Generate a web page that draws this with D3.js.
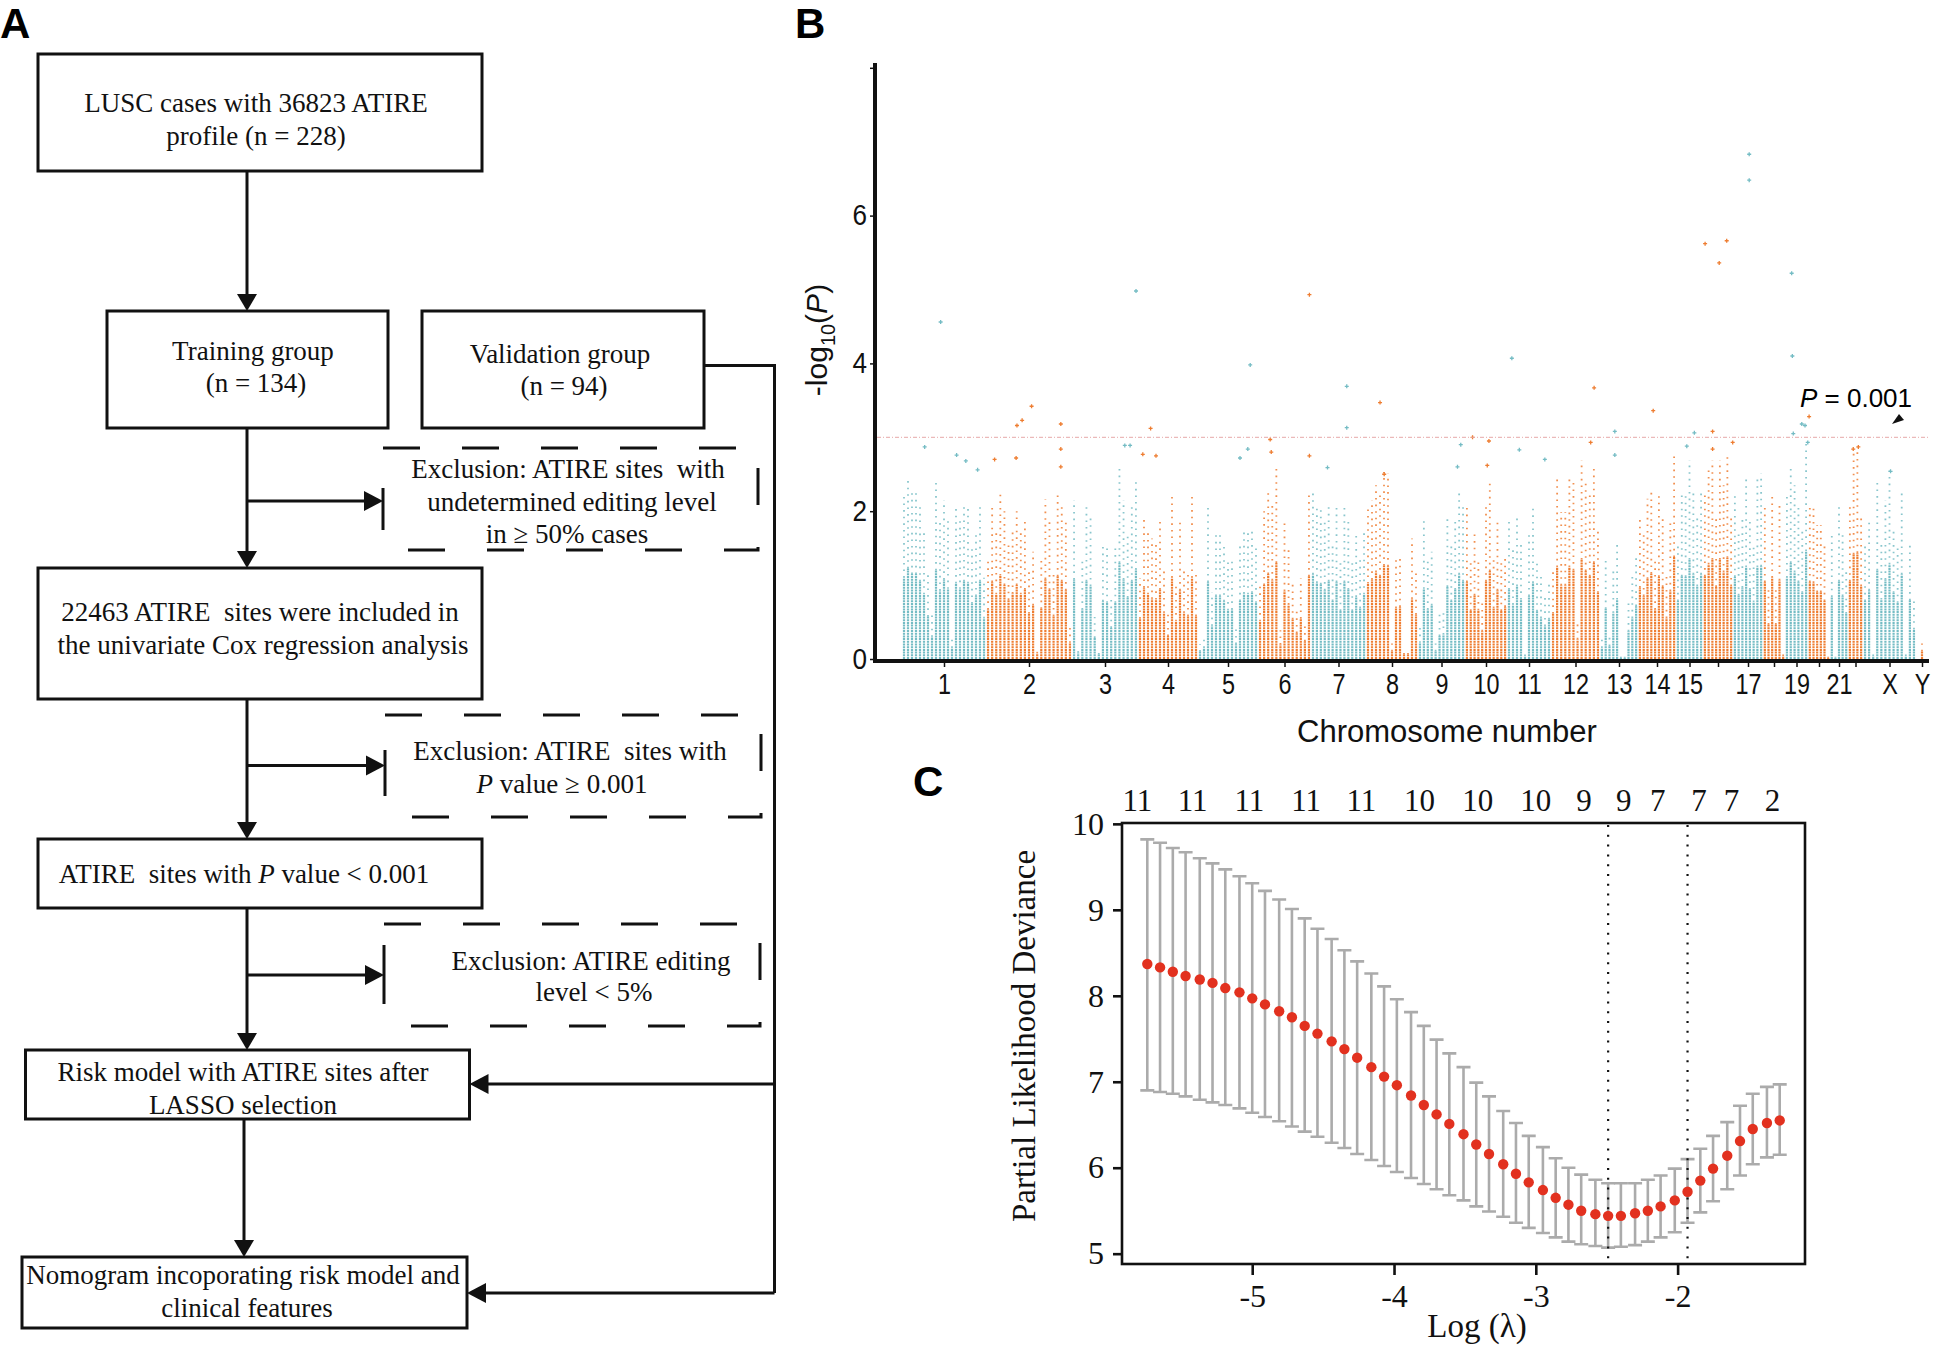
<!DOCTYPE html>
<html lang="en">
<head>
<meta charset="utf-8">
<title>ATIRE flowchart, Manhattan plot and LASSO cross-validation</title>
<script src="https://cdn.jsdelivr.net/npm/d3@7"></script>
<style>
  body { margin: 0; background: #fff; }
  svg text { white-space: pre; }
</style>
</head>
<body>
<div id="fig"></div>
<script>
// ---------- panel B : Manhattan plot ----------
var chrNames = ["1","2","3","4","5","6","7","8","9","10","11","12","13","14","15","16","17","18","19","20","21","22","X","Y"];
var chrShown = ["1","2","3","4","5","6","7","8","9","10","11","12","13","14","15","17","19","21","X","Y"];
// relative chromosome widths as they appear on the axis
var chrLengths = [84,86,66,60,60,53,55,52,47,42,44,49,38,38,27,30,30,22,23,22,18,15,53,12];

// top of each stripe of points (-log10 P), left to right inside each chromosome
var chr1 = [2.2,2.45,2.3,2.3,2.1,1.75,1.15,0.6,2.4,1.85,2.15,1.9,0.3,2.05,1.9,2.1,2.05,1.5,1.7,2.1,1.1];
var chr2 = [1.34,2.08,1.75,2.26,2.0,1.6,1.77,2.0,1.75,1.88,1.23,1.45,0.15,1.36,2.16,1.87,1.16,2.24,2.1,1.86,0.44];
var chr3 = [2.15,0.17,1.34,2.1,1.97,0.57,0.12,1.56,1.52,0.84,1.52,2.6,2.15,1.66,2.1,2.42];
var chr4 = [1.09,1.93,1.75,1.63,1.61,1.88,1.25,0.62,2.2,1.02,1.86,1.25,1.16,2.2,1.16];
var chr5 = [0.2,0.3,2.08,0.9,1.7,1.7,1.56,1.32,1.34,0.4,1.57,1.77,1.75,1.79,1.52];
var chr6 = [1.02,2.0,2.3,2.13,2.6,0.39,1.84,1.47,1.07,0.7,1.09,0.48,2.24];
var chr7 = [2.29,2.06,2.02,1.86,2.1,1.57,2.08,1.3,2.08,1.88,1.3,1.68,1.38,1.75];
var chr8 = [2.04,2.15,2.35,2.24,2.53,2.51,0.21,1.38,1.41,0.12,0.12,1.63,1.2];
var chr9 = [0.44,1.9,1.34,1.45,0.21,0.62,0.66,1.95,1.57,1.88,2.29,2.1];
var chr10 = [2.08,1.3,1.72,1.32,0.75,2.1,2.38,1.38,1.86,1.3,1.41];
var chr11 = [1.88,1.47,1.97,1.61,0.08,1.7,2.06,1.29,1.11,0.89,1.07];
var chr12 = [1.23,2.49,1.99,1.99,2.49,2.4,0.53,2.69,2.38,2.24,2.6,1.79];
var chr13 = [0.3,1.36,0.35,1.25,1.61,0.03,0.03,0.75,1.11,1.43];
var chr14 = [1.93,1.7,2.17,2.31,1.34,2.22,1.95,1.11,1.84,2.76];
var chr15 = [1.57,2.24,2.22,2.69,2.29,1.97,2.29];
var chr16 = [2.24,2.56,2.69,1.95,2.69,2.35,2.74,1.97];
var chr17 = [2.22,1.72,1.93,2.49,1.88,1.54,2.49,2.51];
var chr18 = [2.08,0.93,2.2,0.93,2.13,0.08];
var chr19 = [2.2,2.6,2.35,2.08,1.79,2.92];
var chr20 = [2.08,2.06,1.81,1.81,1.57,0.03];
var chr21 = [1.68,0.03,2.1,1.7,1.23];
var chr22 = [2.1,2.83,2.87,1.97];
var chrX = [1.57,1.86,0.08,2.4,1.61,2.15,2.56,1.79,1.52,2.29,0.08,1.59,0.8];
var chrY = [0.21];
var columnTops = [chr1,chr2,chr3,chr4,chr5,chr6,chr7,chr8,chr9,chr10,chr11,chr12,
                  chr13,chr14,chr15,chr16,chr17,chr18,chr19,chr20,chr21,chr22,chrX,chrY];

// isolated sites standing above the stripes: chromosome index, position (0-1), -log10 P
var hitChr = [0,0,0,0,0, 1,1,1,1,1,1,1,1, 2,2,2, 3,3,3, 4,4,4, 5,5,5,5, 6,6,6, 7,7, 8,8, 9,9,9,
              10,10,10, 11,11, 12,12, 13, 14,14, 15,15,15,15,15,15, 16,16,
              18,18,18,18,18,18,18, 19, 21,21, 22];
var hitPos = [0.27,0.46,0.65,0.76,0.90, 0.10,0.35,0.36,0.42,0.53,0.87,0.87,0.87, 0.80,0.88,0.97,
              0.08,0.21,0.30, 0.70,0.83,0.87, 0.23,0.25,0.97,0.97, 0.65,0.65,0.30, 0.27,0.35,
              0.84,0.91, 0.18,0.57,0.53, 0.11,0.28,0.86, 0.81,0.88, 0.39,0.39, 0.40, 0.68,0.40,
              0.07,0.32,0.32,0.54,0.79,0.99, 0.54,0.54,
              0.29,0.32,0.36,0.73,0.87,0.99,0.99, 0.05, 0.35,0.69, 0.52];
var hitVal = [2.87,4.56,2.76,2.68,2.56, 2.70,2.72,3.16,3.23,3.42,3.18,2.84,2.60, 2.89,2.89,4.98,
              2.77,3.12,2.75, 2.72,2.84,3.98, 2.97,2.80,4.93,2.75, 3.69,3.13,2.59, 3.47,2.50,
              2.60,2.90, 3.00,2.95,2.62, 4.07,2.83,2.70, 2.93,3.67, 3.08,2.76, 3.36, 3.06,2.88,
              5.62,3.08,2.84,5.36,5.66,2.93, 6.83,6.48,
              5.22,4.10,3.05,3.18,3.16,3.52,2.93, 3.28, 2.84,2.87, 2.54];
var yTicksB = [0,2,4,6,8];
var threshold = 3;   // -log10(0.001)

// ---------- panel C : LASSO cross-validation ----------
var logLambda = [-5.74,-5.65,-5.56,-5.47,-5.37,-5.28,-5.19,-5.09,-5.00,-4.91,-4.81,-4.72,-4.63,-4.54,
                 -4.44,-4.35,-4.26,-4.16,-4.07,-3.98,-3.88,-3.79,-3.70,-3.61,-3.51,-3.42,-3.33,-3.23,
                 -3.14,-3.05,-2.95,-2.86,-2.77,-2.68,-2.58,-2.49,-2.40,-2.30,-2.21,-2.12,-2.02,-1.93,
                 -1.84,-1.75,-1.65,-1.56,-1.47,-1.37,-1.28];
var cvMean = [8.37,8.33,8.28,8.23,8.19,8.15,8.09,8.04,7.97,7.90,7.82,7.75,7.65,7.56,7.47,7.38,7.28,
              7.17,7.06,6.96,6.84,6.73,6.62,6.51,6.39,6.27,6.16,6.04,5.93,5.83,5.74,5.65,5.57,5.50,
              5.46,5.44,5.44,5.47,5.50,5.55,5.62,5.72,5.85,5.99,6.14,6.31,6.45,6.52,6.55];
var cvUpper = [9.82,9.78,9.72,9.67,9.60,9.54,9.47,9.39,9.31,9.22,9.12,9.01,8.90,8.78,8.66,8.53,8.40,
               8.26,8.11,7.96,7.81,7.65,7.49,7.33,7.17,6.99,6.83,6.66,6.52,6.37,6.24,6.11,6.00,5.92,
               5.86,5.82,5.82,5.82,5.86,5.91,5.99,6.10,6.22,6.37,6.53,6.72,6.86,6.94,6.97];
var cvLower = [6.90,6.88,6.86,6.83,6.79,6.76,6.73,6.69,6.64,6.59,6.54,6.48,6.42,6.36,6.29,6.23,6.16,
               6.09,6.02,5.95,5.88,5.81,5.75,5.68,5.62,5.55,5.49,5.43,5.36,5.30,5.24,5.19,5.14,5.11,
               5.09,5.07,5.08,5.10,5.14,5.19,5.25,5.36,5.48,5.61,5.75,5.91,6.04,6.12,6.15];
var nzeroPos = [-5.81,-5.42,-5.02,-4.62,-4.23,-3.82,-3.41,-3.00,-2.66,-2.38,-2.14,-1.85,-1.62,-1.33];
var nzeroLabels = ["11","11","11","11","11","10","10","10","9","9","7","7","7","2"];
var lambdaMin = -2.49, lambda1se = -1.93;
var xTicksC = [-5,-4,-3,-2];
var yTicksC = [5,6,7,8,9,10];

var serif = "'Liberation Serif','Times New Roman',serif";
var sans = "'Liberation Sans',Arial,sans-serif";

var svg = d3.select("#fig").append("svg")
    .attr("width", 1944).attr("height", 1346)
    .style("background", "#fff");

// panel letters
svg.append("g").attr("font-family", sans).attr("font-weight", "bold").attr("font-size", 42)
  .selectAll("text").data([["A",0,38],["B",795,38],["C",913,796]]).enter()
  .append("text").attr("x", d => d[1]).attr("y", d => d[2]).text(d => d[0]);

// ================= A : flowchart =================
var A = svg.append("g").attr("font-family", serif).attr("font-size", 27).attr("fill", "#111");

function addLine(g, x, y, str) {
  var t = g.append("text").attr("x", x).attr("y", y).attr("text-anchor", "middle");
  str.split("_").forEach(function(s, i) {
    if (s) t.append("tspan").attr("font-style", i % 2 ? "italic" : null).text(s);
  });
}

var boxes = [
  {x:38, y:54, w:444, h:117, lines:[[256,112,"LUSC cases with 36823 ATIRE"],[256,145,"profile (n = 228)"]]},
  {x:107, y:311, w:281, h:117, lines:[[253,360,"Training group"],[256,392,"(n = 134)"]]},
  {x:422, y:311, w:282, h:117, lines:[[560,363,"Validation group"],[564,395,"(n = 94)"]]},
  {x:38, y:568, w:444, h:131, lines:[[260,621,"22463 ATIRE  sites were included in"],[263,654,"the univariate Cox regression analysis"]]},
  {x:38, y:839, w:444, h:69, lines:[[244,883,"ATIRE  sites with _P_ value < 0.001"]]},
  {x:25.5, y:1050, w:444, h:69, lines:[[243,1081,"Risk model with ATIRE sites after"],[243,1114,"LASSO selection"]]},
  {x:22, y:1257, w:445, h:71, lines:[[243,1284,"Nomogram incoporating risk model and"],[247,1317,"clinical features"]]}
];
boxes.forEach(function(b) {
  A.append("rect").attr("x", b.x).attr("y", b.y).attr("width", b.w).attr("height", b.h)
    .attr("fill", "none").attr("stroke", "#111").attr("stroke-width", 3);
  b.lines.forEach(l => addLine(A, l[0], l[1], l[2]));
});

var dashed = [
  {x0:383, x1:758, y0:448, y1:550, ay:501, bar:[488,530],
   lines:[[568,478,"Exclusion: ATIRE sites  with"],[572,511,"undetermined editing level"],[567,543,"in \u2265 50% cases"]]},
  {x0:385, x1:761, y0:715, y1:817, ay:765.5, bar:[750,796],
   lines:[[570,760,"Exclusion: ATIRE  sites with"],[562,793,"_P_ value \u2265 0.001"]]},
  {x0:384, x1:760, y0:924, y1:1026, ay:975, bar:[945,1004],
   lines:[[591,970,"Exclusion: ATIRE editing"],[594,1001,"level < 5%"]]}
];
var trunkX = 247;
dashed.forEach(function(d) {
  A.append("path")
    .attr("d", "M" + d.x0 + "," + d.y0 + "H" + d.x1 + "V" + d.y1 + "H" + d.x0)
    .attr("fill", "none").attr("stroke", "#111").attr("stroke-width", 3)
    .attr("stroke-dasharray", "37 42");
  A.append("line").attr("x1", d.x0).attr("x2", d.x0).attr("y1", d.bar[0]).attr("y2", d.bar[1])
    .attr("stroke", "#111").attr("stroke-width", 3);
  hArrow(trunkX, d.x0, d.ay);
  d.lines.forEach(l => addLine(A, l[0], l[1], l[2]));
});

function vArrow(x, y1, y2) {
  A.append("line").attr("x1", x).attr("x2", x).attr("y1", y1).attr("y2", y2 - 15)
    .attr("stroke", "#111").attr("stroke-width", 3);
  A.append("path").attr("d", "M" + (x - 10) + "," + (y2 - 17) + "L" + (x + 10) + "," + (y2 - 17) + "L" + x + "," + y2 + "Z")
    .attr("fill", "#111");
}
function hArrow(x1, x2, y) {
  var dir = x2 > x1 ? 1 : -1;
  A.append("line").attr("x1", x1).attr("x2", x2 - dir * 15).attr("y1", y).attr("y2", y)
    .attr("stroke", "#111").attr("stroke-width", 3);
  A.append("path").attr("d", "M" + (x2 - dir * 19) + "," + (y - 10) + "L" + (x2 - dir * 19) + "," + (y + 10) + "L" + x2 + "," + y + "Z")
    .attr("fill", "#111");
}
vArrow(trunkX, 171, 311);
vArrow(trunkX, 428, 568);
vArrow(trunkX, 699, 839);
vArrow(trunkX, 908, 1050);
vArrow(244, 1119, 1257);
A.append("path").attr("d", "M704,365.5H774.5V1293").attr("fill", "none")
  .attr("stroke", "#111").attr("stroke-width", 3);
hArrow(774.5, 469.5, 1084);
hArrow(774.5, 467, 1293);

// ================= B : Manhattan plot =================
var B = svg.append("g");
var teal = "#74bcc4", orange = "#ee7d31";
var starts = [];
chrLengths.reduce(function(acc, l) { starts.push(acc); return acc + l; }, 0);
var xG = d3.scaleLinear().domain([0, d3.sum(chrLengths)]).range([902, 1928]);
var yM = d3.scaleLinear().domain([0, 8]).range([659, 67.8]);

var cols = [];
columnTops.forEach(function(arr, c) {
  arr.forEach(function(v, j) {
    cols.push({c: c, x: starts[c] + (j + 0.5) * chrLengths[c] / arr.length, v: v});
  });
});
// packed lower part of each stripe, then the thinning points above it
var stripes = B.append("g");
stripes.selectAll("line.dense").data(cols).enter().append("line").attr("class", "dense")
  .attr("x1", d => xG(d.x)).attr("x2", d => xG(d.x))
  .attr("y1", yM(0)).attr("y2", d => yM(d.v * 0.5))
  .attr("stroke", d => d.c % 2 ? orange : teal)
  .attr("stroke-width", 2.2).attr("stroke-dasharray", "2 0.7");
stripes.selectAll("line.sparse").data(cols).enter().append("line").attr("class", "sparse")
  .attr("x1", d => xG(d.x)).attr("x2", d => xG(d.x))
  .attr("y1", d => yM(d.v * 0.5)).attr("y2", d => yM(d.v))
  .attr("stroke", d => d.c % 2 ? orange : teal).attr("stroke-opacity", 0.85)
  .attr("stroke-width", 1.8).attr("stroke-dasharray", "1.6 5");

var hits = hitChr.map((c, i) => ({c: c, x: starts[c] + hitPos[i] * chrLengths[c], v: hitVal[i]}));
B.append("g").selectAll("path").data(hits).enter().append("path")
  .attr("d", d => { var x = xG(d.x), y = yM(d.v); return "M" + (x - 2) + "," + y + "H" + (x + 2) + "M" + x + "," + (y - 2) + "V" + (y + 2); })
  .attr("stroke", d => d.c % 2 ? orange : teal).attr("stroke-width", 1.3);

// threshold line
B.append("line").attr("x1", 877).attr("x2", 1930).attr("y1", yM(threshold)).attr("y2", yM(threshold))
  .attr("stroke", "#e6a8a8").attr("stroke-width", 1).attr("stroke-dasharray", "4 2 1 2");
var pl = B.append("text").attr("x", 1800).attr("y", 407).attr("font-family", sans).attr("font-size", 26);
pl.append("tspan").attr("font-style", "italic").text("P");
pl.append("tspan").text(" = 0.001");
B.append("path").attr("d", "M1892,424L1899,414L1904,420Z").attr("fill", "#111");

// axes
var yAxB = B.append("g").attr("transform", "translate(875,0)")
  .call(d3.axisLeft(yM).tickValues(yTicksB).tickSize(5).tickPadding(4).tickFormat(d => d < 8 ? d : ""));
yAxB.select(".domain").remove();
yAxB.selectAll("line").attr("stroke", "#111").attr("stroke-width", 1.5);
yAxB.selectAll("text").attr("font-family", sans).attr("font-size", 29).attr("fill", "#111")
  .attr("transform", "scale(0.9,1)");
B.append("line").attr("x1", 875).attr("x2", 875).attr("y1", 63).attr("y2", 663)
  .attr("stroke", "#111").attr("stroke-width", 4);

var centers = chrNames.map((n, i) => starts[i] + chrLengths[i] / 2);
var xAxB = B.append("g").attr("transform", "translate(0,661)")
  .call(d3.axisBottom(xG).tickValues(centers).tickSize(6).tickPadding(6)
    .tickFormat((d, i) => chrShown.indexOf(chrNames[i]) >= 0 ? chrNames[i] : ""));
xAxB.select(".domain").remove();
xAxB.selectAll("line").attr("stroke", "#111").attr("stroke-width", 1.5);
xAxB.selectAll("text").attr("font-family", sans).attr("font-size", 30).attr("fill", "#111")
  .attr("transform", "scale(0.78,1)");
B.append("line").attr("x1", 873).attr("x2", 1929).attr("y1", 661).attr("y2", 661)
  .attr("stroke", "#111").attr("stroke-width", 4);

B.append("text").attr("x", 1447).attr("y", 742).attr("text-anchor", "middle")
  .attr("font-family", sans).attr("font-size", 31).attr("fill", "#111").text("Chromosome number");
var yl = B.append("text").attr("transform", "translate(827,340) rotate(-90)").attr("text-anchor", "middle")
  .attr("font-family", sans).attr("font-size", 30).attr("fill", "#111");
yl.append("tspan").text("-log");
yl.append("tspan").attr("font-size", 20).attr("dy", 8).text("10");
yl.append("tspan").attr("dy", -8).text("(");
yl.append("tspan").attr("font-style", "italic").text("P");
yl.append("tspan").text(")");

// ================= C : LASSO CV curve =================
var C = svg.append("g");
var xPad = 0.04 * (d3.max(logLambda) - d3.min(logLambda));
var yPad = 0.04 * (d3.max(cvUpper) - d3.min(cvLower));
var xC = d3.scaleLinear().domain([d3.min(logLambda) - xPad, d3.max(logLambda) + xPad]).range([1122, 1805]);
var yC = d3.scaleLinear().domain([d3.min(cvLower) - yPad, d3.max(cvUpper) + yPad]).range([1264, 823]);

var cv = logLambda.map((l, i) => ({l: l, m: cvMean[i], u: cvUpper[i], lo: cvLower[i]}));
var eb = C.append("g").attr("stroke", "#ababab").attr("stroke-width", 2.6).attr("fill", "none");
eb.selectAll("path").data(cv).enter().append("path")
  .attr("d", d => { var x = xC(d.l);
    return "M" + x + "," + yC(d.lo) + "V" + yC(d.u) + "M" + (x - 7) + "," + yC(d.u) + "H" + (x + 7) +
           "M" + (x - 7) + "," + yC(d.lo) + "H" + (x + 7); });

[lambdaMin, lambda1se].forEach(function(l) {
  C.append("line").attr("x1", xC(l)).attr("x2", xC(l)).attr("y1", 825).attr("y2", 1262)
    .attr("stroke", "#111").attr("stroke-width", 2.2).attr("stroke-dasharray", "2 7.8");
});

C.append("g").selectAll("circle").data(cv).enter().append("circle")
  .attr("cx", d => xC(d.l)).attr("cy", d => yC(d.m)).attr("r", 5.2).attr("fill", "#e2311f");

C.append("rect").attr("x", 1122).attr("y", 823).attr("width", 683).attr("height", 441)
  .attr("fill", "none").attr("stroke", "#111").attr("stroke-width", 2.6);

var yAxC = C.append("g").attr("transform", "translate(1122,0)")
  .call(d3.axisLeft(yC).tickValues(yTicksC).tickSize(9).tickPadding(9).tickFormat(d => String(d)));
var xAxC = C.append("g").attr("transform", "translate(0,1264)")
  .call(d3.axisBottom(xC).tickValues(xTicksC).tickSize(11).tickPadding(9).tickFormat(d => String(d)));
[yAxC, xAxC].forEach(function(ax) {
  ax.select(".domain").remove();
  ax.selectAll("line").attr("stroke", "#111").attr("stroke-width", 2.6);
  ax.selectAll("text").attr("font-family", serif).attr("font-size", 32).attr("fill", "#111");
});

C.append("g").attr("font-family", serif).attr("font-size", 31).attr("fill", "#111")
  .selectAll("text").data(nzeroPos).enter().append("text")
  .attr("x", d => xC(d)).attr("y", 811).attr("text-anchor", "middle")
  .text((d, i) => nzeroLabels[i]);

C.append("text").attr("x", 1477).attr("y", 1337).attr("text-anchor", "middle")
  .attr("font-family", serif).attr("font-size", 33).attr("fill", "#111").text("Log (\u03bb)");
C.append("text").attr("transform", "translate(1035,1036) rotate(-90)").attr("text-anchor", "middle")
  .attr("font-family", serif).attr("font-size", 33).attr("fill", "#111").text("Partial Likelihood Deviance");
</script>
</body>
</html>
